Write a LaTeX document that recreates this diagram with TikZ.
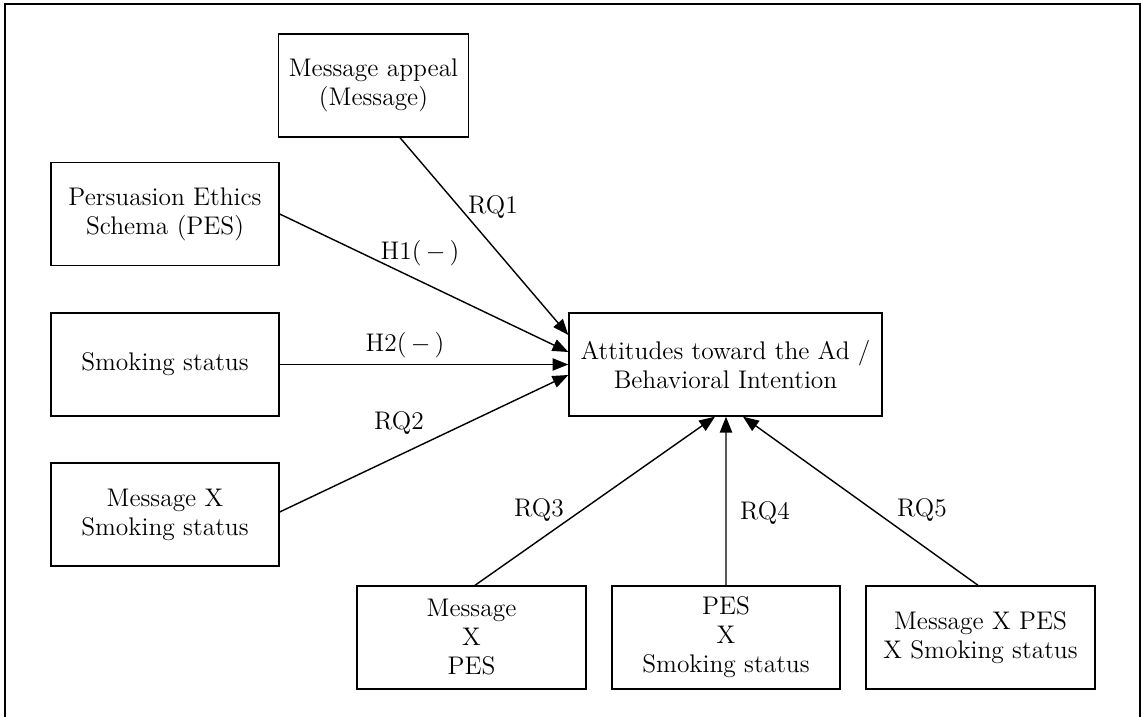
\documentclass[tikz,border=0pt]{standalone}
\usepackage{amsmath,amssymb}
\usetikzlibrary{calc,arrows.meta}

\begin{document}
\begin{tikzpicture}[x=0.02cm,y=0.02cm,line width=.8pt,
box/.style={draw,align=center,minimum height=2.06cm,font=\fontsize{14.5}{16.5}\selectfont},
arr/.style={-{Triangle[length=9pt,width=7pt]}},
lab/.style={font=\fontsize{14.5}{16.5}\selectfont}]
\useasboundingbox(0,0)rectangle(1141,716);
\draw(5,-10)--(5,712)--(1140,712)--(1140,-10);

\node[box,minimum width=3.8cm](msg)at(373.5,630.5){Message appeal\\(Message)};
\node[box,minimum width=4.56cm](pes)at(165,502){Persuasion Ethics\\Schema (PES)};
\node[box,minimum width=4.56cm](smk)at(165,351.5){Smoking status};
\node[box,minimum width=4.56cm](mxs)at(165,201.5){Message X\\Smoking status};
\node[box,minimum width=6.26cm](att)at(725.5,351.5){Attitudes toward the Ad /\\Behavioral Intention};
\node[box,minimum width=4.58cm](mxp)at(471.5,78.5){Message\\X\\PES};
\node[box,minimum width=4.56cm](pxs)at(726,78.5){PES\\X\\Smoking status};
\node[box,minimum width=4.58cm](mps)at(980.5,78.5){Message X PES\\X Smoking status};

\draw[arr]($(msg.south)+(26.5,0)$)--($(att.west)+(0,29.5)$);
\draw[arr](pes.east)--($(att.west)+(0,12.5)$);
\draw[arr](smk.east)--(att.west);
\draw[arr]($(mxs.east)+(0,2.5)$)--($(att.west)+(0,-10.5)$);
\draw[arr]($(mxp.north)+(3.5,0)$)--($(att.south)+(-10.5,0)$);
\draw[arr](pxs.north)--($(att.south)+(0.5,0)$);
\draw[arr]($(mps.north)+(-2.5,0)$)--($(att.south)+(17.5,0)$);

\node[lab](rq1)at(493,509){RQ1};
\node[lab](h1)at(420,463){H1($\,-\,$)};
\node[lab](h2)at(405,371){H2($\,-\,$)};
\node[lab](rq2)at(399,293){RQ2};
\node[lab](rq3)at(539,206){RQ3};
\node[lab](rq4)at(765,203){RQ4};
\node[lab](rq5)at(922,206){RQ5};
\end{tikzpicture}
\end{document}
